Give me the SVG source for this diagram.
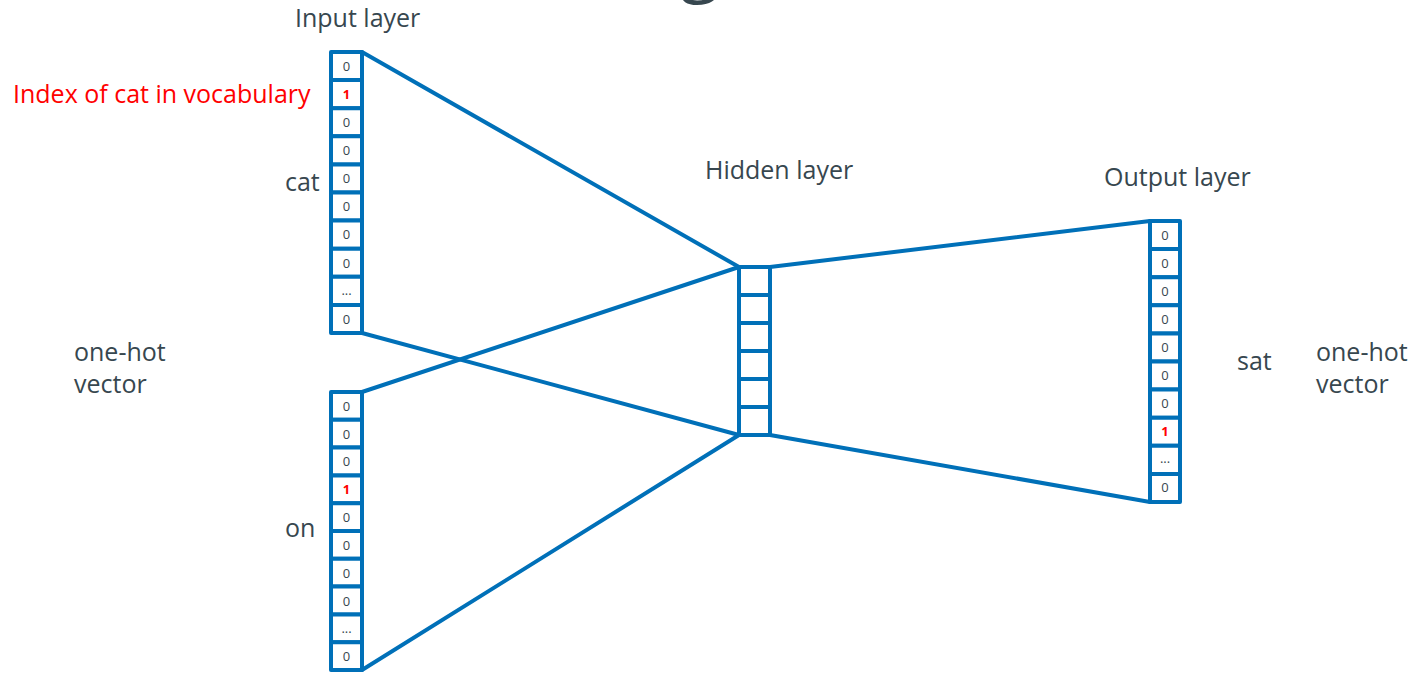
<svg xmlns="http://www.w3.org/2000/svg" width="1413" height="676" viewBox="0 0 1413 676">
  <defs>
    <style>
      .lbl { font-family: "Open Sans", "Noto Sans", sans-serif; font-size: 25px; fill: #37474f; }
      .red { fill: #ff0000; }
      .cell { fill: #ffffff; stroke: #0070b8; stroke-width: 4; stroke-linejoin: round; }
      .num { font-family: "Open Sans", "Noto Sans", sans-serif; font-size: 13px; fill: #37474f; text-anchor: middle; }
      .one { fill: #ff0000; font-weight: bold; }
      .edge { stroke: #0070b8; stroke-width: 4; fill: none; stroke-linecap: round; }
    </style>
  </defs>
  <rect width="1413" height="676" fill="#ffffff"/>

  <!-- descender of the slide title letter, cropped by the top edge -->
  <text x="680" y="-12" font-family="Open Sans, sans-serif" font-size="72" fill="#37474f">g</text>

  <!-- connectors between layers -->
  <g id="connectors">
    <line class="edge" x1="362" y1="52" x2="739" y2="267"/>
    <line class="edge" x1="362" y1="333" x2="739" y2="435"/>
    <line class="edge" x1="362" y1="392" x2="739" y2="267"/>
    <line class="edge" x1="362" y1="670" x2="739" y2="435"/>
    <line class="edge" x1="770" y1="267" x2="1150" y2="221"/>
    <line class="edge" x1="770" y1="435" x2="1150" y2="502"/>
  </g>

  <!-- input vector: cat -->
  <g id="input-cat">
    <rect class="cell" x="331" y="52" width="31" height="28.1"/>
    <rect class="cell" x="331" y="80.1" width="31" height="28.1"/>
    <rect class="cell" x="331" y="108.2" width="31" height="28.1"/>
    <rect class="cell" x="331" y="136.3" width="31" height="28.1"/>
    <rect class="cell" x="331" y="164.4" width="31" height="28.1"/>
    <rect class="cell" x="331" y="192.5" width="31" height="28.1"/>
    <rect class="cell" x="331" y="220.6" width="31" height="28.1"/>
    <rect class="cell" x="331" y="248.7" width="31" height="28.1"/>
    <rect class="cell" x="331" y="276.8" width="31" height="28.1"/>
    <rect class="cell" x="331" y="304.9" width="31" height="28.1"/>
    <text class="num" x="346.5" y="71">0</text>
    <text class="num one" x="346.5" y="99">1</text>
    <text class="num" x="346.5" y="127">0</text>
    <text class="num" x="346.5" y="155">0</text>
    <text class="num" x="346.5" y="183">0</text>
    <text class="num" x="346.5" y="211">0</text>
    <text class="num" x="346.5" y="239">0</text>
    <text class="num" x="346.5" y="268">0</text>
    <text class="num" x="346.5" y="295">...</text>
    <text class="num" x="346.5" y="324">0</text>
  </g>

  <!-- input vector: on -->
  <g id="input-on">
    <rect class="cell" x="331" y="392" width="31" height="27.8"/>
    <rect class="cell" x="331" y="419.8" width="31" height="27.8"/>
    <rect class="cell" x="331" y="447.6" width="31" height="27.8"/>
    <rect class="cell" x="331" y="475.4" width="31" height="27.8"/>
    <rect class="cell" x="331" y="503.2" width="31" height="27.8"/>
    <rect class="cell" x="331" y="531" width="31" height="27.8"/>
    <rect class="cell" x="331" y="558.8" width="31" height="27.8"/>
    <rect class="cell" x="331" y="586.6" width="31" height="27.8"/>
    <rect class="cell" x="331" y="614.4" width="31" height="27.8"/>
    <rect class="cell" x="331" y="642.2" width="31" height="27.8"/>
    <text class="num" x="346.5" y="411">0</text>
    <text class="num" x="346.5" y="439">0</text>
    <text class="num" x="346.5" y="466">0</text>
    <text class="num one" x="346.5" y="494">1</text>
    <text class="num" x="346.5" y="522">0</text>
    <text class="num" x="346.5" y="550">0</text>
    <text class="num" x="346.5" y="578">0</text>
    <text class="num" x="346.5" y="606">0</text>
    <text class="num" x="346.5" y="633">...</text>
    <text class="num" x="346.5" y="661">0</text>
  </g>

  <!-- hidden layer -->
  <g id="hidden">
    <rect class="cell" x="739" y="267" width="31" height="28"/>
    <rect class="cell" x="739" y="295" width="31" height="28"/>
    <rect class="cell" x="739" y="323" width="31" height="28"/>
    <rect class="cell" x="739" y="351" width="31" height="28"/>
    <rect class="cell" x="739" y="379" width="31" height="28"/>
    <rect class="cell" x="739" y="407" width="31" height="28"/>
  </g>

  <!-- output vector: sat -->
  <g id="output-sat">
    <rect class="cell" x="1150" y="221" width="30" height="28.1"/>
    <rect class="cell" x="1150" y="249.1" width="30" height="28.1"/>
    <rect class="cell" x="1150" y="277.2" width="30" height="28.1"/>
    <rect class="cell" x="1150" y="305.3" width="30" height="28.1"/>
    <rect class="cell" x="1150" y="333.4" width="30" height="28.1"/>
    <rect class="cell" x="1150" y="361.5" width="30" height="28.1"/>
    <rect class="cell" x="1150" y="389.6" width="30" height="28.1"/>
    <rect class="cell" x="1150" y="417.7" width="30" height="28.1"/>
    <rect class="cell" x="1150" y="445.8" width="30" height="28.1"/>
    <rect class="cell" x="1150" y="473.9" width="30" height="28.1"/>
    <text class="num" x="1165" y="240">0</text>
    <text class="num" x="1165" y="268">0</text>
    <text class="num" x="1165" y="296">0</text>
    <text class="num" x="1165" y="324">0</text>
    <text class="num" x="1165" y="352">0</text>
    <text class="num" x="1165" y="380">0</text>
    <text class="num" x="1165" y="408">0</text>
    <text class="num one" x="1165" y="436">1</text>
    <text class="num" x="1165" y="463">...</text>
    <text class="num" x="1165" y="492">0</text>
  </g>

  <!-- labels -->
  <g id="labels">
    <text class="lbl" x="295" y="27">Input layer</text>
    <text class="lbl red" x="13" y="103">Index of cat in vocabulary</text>
    <text class="lbl" x="285" y="191">cat</text>
    <text class="lbl" x="705" y="179">Hidden layer</text>
    <text class="lbl" x="1104" y="186">Output layer</text>
    <text class="lbl" x="74" y="361">one-hot</text>
    <text class="lbl" x="74" y="393">vector</text>
    <text class="lbl" x="285" y="537">on</text>
    <text class="lbl" x="1237" y="370">sat</text>
    <text class="lbl" x="1316" y="361">one-hot</text>
    <text class="lbl" x="1316" y="393">vector</text>
  </g>
</svg>
